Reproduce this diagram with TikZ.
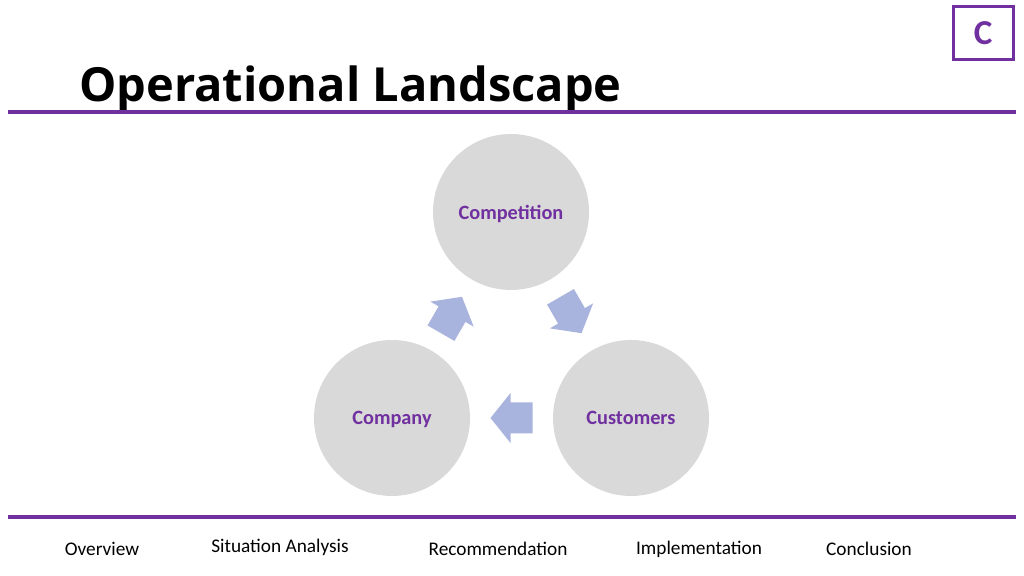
\documentclass[tikz,border=0pt]{standalone}
\usepackage{fontspec}
\setmainfont{Carlito}
\newfontfamily\titlefont{Open Sans}
\usetikzlibrary{calc}
\definecolor{brandpurple}{HTML}{7030A0}
\definecolor{circgray}{HTML}{D9D9D9}
\definecolor{arrowblue}{HTML}{A9B4DE}
\tikzset{
  topic/.style={circle, fill=circgray, minimum size=156pt, inner sep=0pt, text depth=0pt,
    font=\fontsize{20.3}{22}\selectfont\bfseries, text=brandpurple},
  navitem/.style={font=\fontsize{19.3}{21}\selectfont, text=black, inner sep=0pt},
  rule/.style={brandpurple, line width=4.5pt},
  flowarrow/.style={fill=arrowblue, draw=none}
}
\newcommand{\cyclearrow}[2]{%
  \begin{scope}[shift={(#1)}, rotate=#2]
    \fill[flowarrow] (-21,-15.5) -- (1,-15.5) -- (1,-25) -- (21,0) -- (1,25) -- (1,15.5) -- (-21,15.5) -- cycle;
  \end{scope}}
\begin{document}
\begin{tikzpicture}[x=1pt,y=1pt]
\useasboundingbox (0,0) rectangle (1024,575);
\fill[white] (0,0) rectangle (1024,575);
% title
\node[anchor=base west, inner sep=0pt, font=\titlefont\fontsize{47}{50}\selectfont\bfseries] (title) at (79,473) {Operational Landscape};
\coordinate (tl) at (8,463);
\coordinate (tr) at (1016,463);
\draw[rule] (tl) -- (tr);
% C box
\node[draw=brandpurple, line width=3pt, minimum width=60pt, minimum height=53pt, inner sep=0pt,
  text=brandpurple, font=\fontsize{35}{37}\selectfont\bfseries] (cbox) at (983,541.5) {C};
% circles
\node[topic] (compet) at (511,363) {Competition};
\node[topic] (company) at (392,157) {Company};
\node[topic] (cust) at (631,157) {Customers};
% arrows
\coordinate (m1) at ($(company)!0.5!(compet)$);
\coordinate (m2) at ($(compet)!0.5!(cust)$);
\coordinate (m3) at ($(cust)!0.5!(company)$);
\cyclearrow{m1}{60}
\cyclearrow{m2}{-60}
\cyclearrow{m3}{180}
% bottom rule
\coordinate (bl) at (8,58);
\coordinate (br) at (1016,58);
\draw[rule, line width=3.5pt] (bl) -- (br);
% nav
\node[navitem] (n1) at (102,26) {Overview};
\node[navitem] (n2) at (280,28) {Situation Analysis};
\node[navitem] (n3) at (498,26) {Recommendation};
\node[navitem] (n4) at (699,26) {Implementation};
\node[navitem] (n5) at (869,26) {Conclusion};
\end{tikzpicture}
\end{document}
